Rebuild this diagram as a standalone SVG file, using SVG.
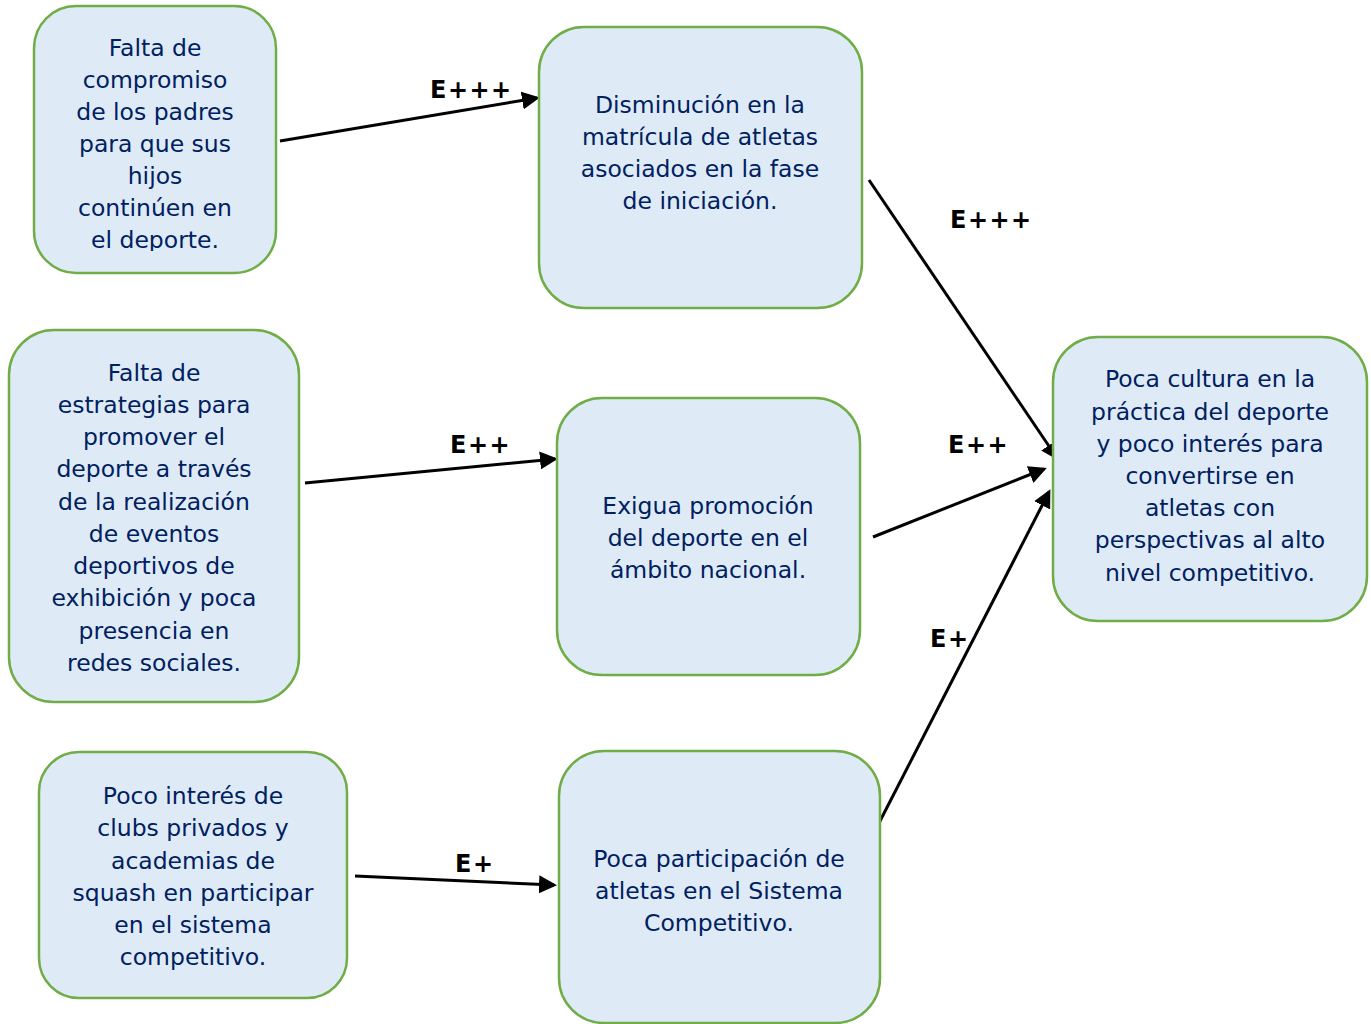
<svg xmlns="http://www.w3.org/2000/svg" width="1371" height="1024" viewBox="0 0 1371 1024">
<style>
.box{fill:#deebf7;stroke:#70ad47;stroke-width:2.5}
.t{font-family:"DejaVu Sans","Liberation Sans",sans-serif;font-size:23.5px;fill:#002060;text-anchor:middle}
.lbl{font-family:"DejaVu Sans","Liberation Sans",sans-serif;font-size:24px;font-weight:bold;fill:#000;letter-spacing:1.5px}
.c{stroke:#000;stroke-width:3;fill:none;marker-end:url(#ah)}
</style>
<defs>
<marker id="ah" markerWidth="6" markerHeight="6" refX="5" refY="3" orient="auto" markerUnits="strokeWidth">
<path d="M0,0 L6,3 L0,6 Z" fill="#000"/>
</marker>
<clipPath id="clip1"><rect x="34" y="6" width="242" height="245"/></clipPath>
</defs>
<g id="connectors">
<line class="c" x1="280" y1="141" x2="537" y2="98"/>
<line class="c" x1="869" y1="180" x2="1057" y2="458"/>
<line class="c" x1="305" y1="483" x2="555" y2="459"/>
<line class="c" x1="873" y1="537" x2="1044" y2="469"/>
<line class="c" x1="355" y1="876" x2="554" y2="885"/>
<line class="c" x1="879" y1="823" x2="1049" y2="492"/>
<text class="lbl" x="430" y="98">E+++</text>
<text class="lbl" x="950" y="228">E+++</text>
<text class="lbl" x="450" y="453">E++</text>
<text class="lbl" x="948" y="453">E++</text>
<text class="lbl" x="455" y="872">E+</text>
<text class="lbl" x="930" y="647">E+</text>
</g>
<g id="n1">
<rect class="box" x="34" y="6" width="242" height="267" rx="42"/>
<text class="t" clip-path="url(#clip1)"><tspan x="155" y="56">Falta de</tspan><tspan x="155" y="88">compromiso</tspan><tspan x="155" y="120">de los padres</tspan><tspan x="155" y="152">para que sus</tspan><tspan x="155" y="184">hijos</tspan><tspan x="155" y="216">continúen en</tspan><tspan x="155" y="248">el deporte.</tspan></text>
</g>
<g id="n2">
<rect class="box" x="539" y="27" width="323" height="281" rx="45"/>
<text class="t"><tspan x="700" y="113">Disminución en la</tspan><tspan x="700" y="145">matrícula de atletas</tspan><tspan x="700" y="177">asociados en la fase</tspan><tspan x="700" y="209">de iniciación.</tspan></text>
</g>
<g id="n3">
<rect class="box" x="9" y="330" width="290" height="372" rx="45"/>
<text class="t"><tspan x="154" y="381">Falta de</tspan><tspan x="154" y="413">estrategias para</tspan><tspan x="154" y="445">promover el</tspan><tspan x="154" y="477">deporte a través</tspan><tspan x="154" y="510">de la realización</tspan><tspan x="154" y="542">de eventos</tspan><tspan x="154" y="574">deportivos de</tspan><tspan x="154" y="606">exhibición y poca</tspan><tspan x="154" y="639">presencia en</tspan><tspan x="154" y="671">redes sociales.</tspan></text>
</g>
<g id="n4">
<rect class="box" x="557" y="398" width="303" height="277" rx="45"/>
<text class="t"><tspan x="708" y="514">Exigua promoción</tspan><tspan x="708" y="546">del deporte en el</tspan><tspan x="708" y="578">ámbito nacional.</tspan></text>
</g>
<g id="n5">
<rect class="box" x="39" y="752" width="308" height="246" rx="40"/>
<text class="t"><tspan x="193" y="804">Poco interés de</tspan><tspan x="193" y="836">clubs privados y</tspan><tspan x="193" y="869">academias de</tspan><tspan x="193" y="901">squash en participar</tspan><tspan x="193" y="933">en el sistema</tspan><tspan x="193" y="965">competitivo.</tspan></text>
</g>
<g id="n6">
<rect class="box" x="559" y="751" width="321" height="272" rx="45"/>
<text class="t"><tspan x="719" y="867">Poca participación de</tspan><tspan x="719" y="899">atletas en el Sistema</tspan><tspan x="719" y="931">Competitivo.</tspan></text>
</g>
<g id="n7">
<rect class="box" x="1053" y="337" width="314" height="284" rx="45"/>
<text class="t"><tspan x="1210" y="387">Poca cultura en la</tspan><tspan x="1210" y="420">práctica del deporte</tspan><tspan x="1210" y="452">y poco interés para</tspan><tspan x="1210" y="484">convertirse en</tspan><tspan x="1210" y="516">atletas con</tspan><tspan x="1210" y="548">perspectivas al alto</tspan><tspan x="1210" y="581">nivel competitivo.</tspan></text>
</g>
</svg>
